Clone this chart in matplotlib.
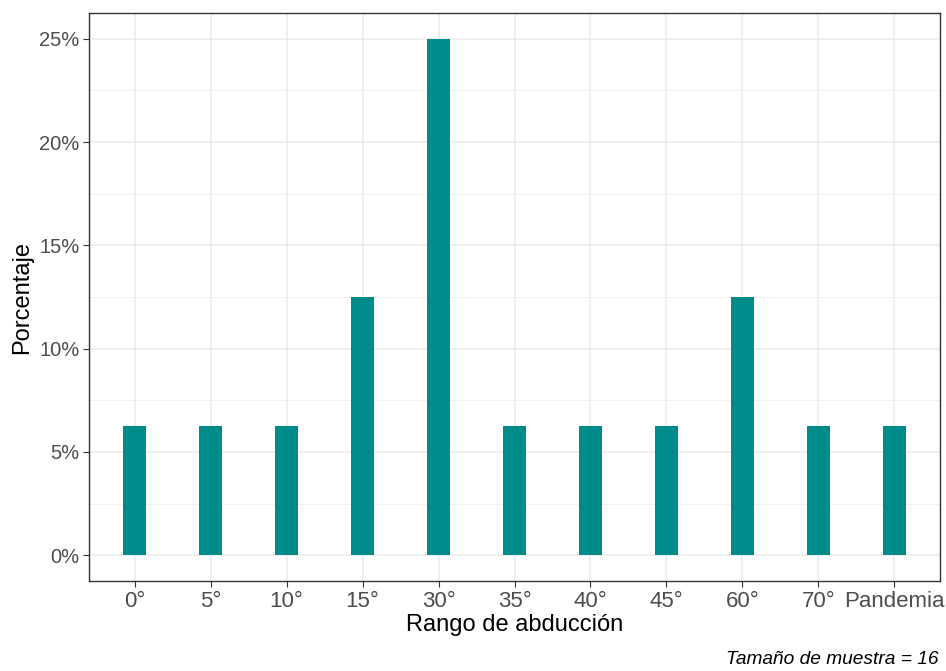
import matplotlib.pyplot as plt
from matplotlib.ticker import FuncFormatter, MultipleLocator

# Datos
categorias = ["0°", "5°", "10°", "15°", "30°", "35°", "40°", "45°", "60°", "70°", "Pandemia"]
frecuencias = [1, 1, 1, 2, 4, 1, 1, 1, 2, 1, 1]
n_total = 16
porcentajes = [f / n_total * 100 for f in frecuencias]

plt.rcParams['font.family'] = ['Liberation Sans', 'DejaVu Sans']

fig = plt.figure(figsize=(9.46, 6.71), dpi=100)
ax = fig.add_axes([89 / 946, 1 - 581 / 671, (940 - 89) / 946, (581 - 13) / 671])

x = list(range(1, len(categorias) + 1))
ax.bar(x, porcentajes, width=0.3, color='#008B8B', zorder=3)

ax.set_xlim(0.4, len(categorias) + 0.6)
ax.set_ylim(-1.25, 26.25)
ax.set_xticks(x)
ax.set_xticklabels(categorias)
ax.yaxis.set_major_locator(MultipleLocator(5))
ax.yaxis.set_minor_locator(MultipleLocator(2.5))
ax.yaxis.set_major_formatter(FuncFormatter(lambda v, p: f'{v:.0f}%'))

# Rejilla estilo theme_bw
ax.grid(which='major', color='#EBEBEB', linewidth=1.1, zorder=0)
ax.grid(which='minor', axis='y', color='#F0F0F0', linewidth=0.7, zorder=0)
ax.set_axisbelow(True)
for s in ax.spines.values():
    s.set_color('#333333')
    s.set_linewidth(1.0)

ax.tick_params(axis='x', which='major', length=4, color='#333333', labelsize=16,
               labelcolor='#4D4D4D', pad=3)
ax.tick_params(axis='y', which='major', length=4, color='#333333', labelsize=14.5,
               labelcolor='#4D4D4D', pad=3)
ax.tick_params(axis='y', which='minor', length=0)

ax.set_xlabel('Rango de abducción', fontsize=17, color='black', labelpad=2)
ax.set_ylabel('Porcentaje', fontsize=17, color='black', labelpad=4)

fig.text(938 / 946, 1 - 659 / 671, f'Tamaño de muestra = {n_total}', fontsize=13.8,
         style='italic', ha='right', va='center', color='black')

plt.savefig('out.png', dpi=100)
plt.close()
